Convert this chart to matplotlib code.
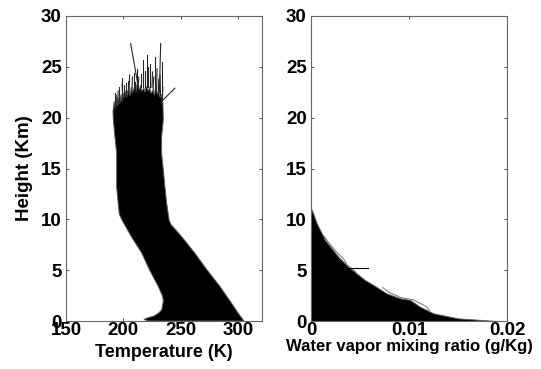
import matplotlib
matplotlib.use("Agg")
import matplotlib.pyplot as plt
import numpy as np

plt.rcParams['font.family'] = ['Liberation Sans', 'DejaVu Sans']
plt.rcParams['font.weight'] = 'bold'

# ---- Temperature panel: envelope of all profiles ----
# left edge, bottom -> top : height (km), temperature (K)
temp_left_z = [0.0, 0.15, 0.3, 0.5, 0.8, 1.1, 2.0, 2.5, 3.4, 5.0, 6.7, 8.3, 9.9, 10.5, 11.6, 13.2, 14.9, 16.5, 18.1, 19.8, 20.6]
temp_left_T = [222, 218, 221, 227, 231, 233.5, 235, 234, 230.5, 223, 216, 207, 199, 196.5, 195.5, 194.2, 194.2, 194.2, 192.7, 191.3, 191]
# top of the dense mass, left -> right : temperature (K), height (km)
temp_top_T = [191, 192, 193, 194, 195, 196, 197, 198, 199, 200, 201, 202, 203, 204, 206, 207, 208, 210, 211, 212, 214, 215, 216, 218, 219, 220, 222, 223, 224, 226, 227, 228, 230, 231, 232, 233, 234.5]
temp_top_z = [20.6, 21.6, 20.9, 21.9, 21.2, 22.0, 21.4, 22.3, 21.6, 22.4, 21.9, 22.6, 22.0, 22.7, 22.2, 23.0, 22.4, 23.1, 22.5, 23.3, 22.7, 23.2, 22.6, 22.9, 22.5, 23.1, 22.6, 23.0, 22.4, 22.7, 22.2, 22.8, 22.3, 22.6, 22.0, 22.3, 21.5]
# right edge, top -> bottom : height (km), temperature (K)
temp_right_z = [21.5, 19.8, 18.1, 16.5, 14.85, 13.2, 11.6, 9.9, 9.5, 8.3, 6.66, 5.0, 3.4, 1.74, 0.76, 0.1, 0.0]
temp_right_T = [234.5, 234.9, 233.4, 233.4, 234.9, 236.3, 237.8, 240.0, 241.5, 250.9, 262.5, 273.2, 284.3, 294.5, 300.3, 304.6, 305]

# individual profile tops sticking out above the mass: base (T, z) -> tip (T, z)
spike_T_base = [213.9, 231.5, 220.3, 227.6, 217.4, 233.4, 223.3, 212.0, 198.5, 210.2, 204.0, 192.7, 233.4, 195.0, 229.0, 225.0, 215.5, 201.0, 207.5,
                193.5, 196.5, 199.5, 202.5, 205.0, 209.0, 213.0, 219.0, 221.5, 226.0, 230.5, 232.5, 234.0]
spike_z_base = [22.5, 22.5, 23.0, 22.5, 23.0, 22.0, 23.0, 23.0, 22.0, 22.5, 22.5, 21.0, 21.6, 21.5, 22.5, 23.0, 23.0, 22.0, 22.5,
                21.0, 21.5, 21.8, 22.2, 22.4, 22.8, 23.0, 23.0, 23.0, 22.7, 22.4, 22.2, 21.8]
spike_T_tip = [206.4, 232.6, 220.3, 227.6, 217.4, 233.4, 223.3, 212.0, 198.5, 210.2, 204.0, 192.7, 245.0, 195.5, 229.5, 225.5, 215.5, 201.0, 208.0,
               193.8, 196.5, 199.0, 202.5, 205.5, 209.0, 213.5, 219.0, 221.5, 226.5, 231.0, 232.0, 234.5]
spike_z_tip = [27.3, 27.3, 26.2, 26.0, 25.7, 25.5, 25.3, 24.8, 23.9, 23.5, 23.6, 22.4, 22.9, 22.6, 24.8, 24.5, 24.3, 23.2, 24.0,
               22.2, 23.0, 23.3, 23.4, 24.2, 24.4, 24.0, 24.6, 25.0, 24.0, 23.8, 24.2, 23.0]

# ---- Water vapour panel: envelope ----
wv_z = [0.0, 0.06, 0.26, 0.75, 1.41, 2.07, 2.23, 2.72, 3.4, 4.03, 5.34, 6.3, 7.97, 9.6, 10.5, 11.1]
wv_q = [0.0190, 0.0180, 0.0150, 0.0125, 0.0111, 0.0101, 0.0091, 0.0077, 0.0066, 0.0055, 0.0038, 0.0028, 0.00143, 0.00058, 0.00025, 0.0]
# a few stray profiles just outside the envelope
stray1_z = [1.0, 1.4, 1.8, 2.1, 2.3, 2.8, 3.3]
stray1_q = [0.0121, 0.0118, 0.0110, 0.0104, 0.0092, 0.0080, 0.0073]
stray2_z = [4.8, 5.2, 5.5, 6.0, 6.8, 7.6, 8.4]
stray2_q = [0.0046, 0.0041, 0.0037, 0.0034, 0.0026, 0.0019, 0.0013]
stray3_z = [5.18, 5.18]
stray3_q = [0.0040, 0.0058]

T_ticks = [150, 200, 250, 300]
z_ticks = [0, 5, 10, 15, 20, 25, 30]
q_ticks = [0, 0.01, 0.02]
q_ticklabels = ['0', '0.01', '0.02']

W, H = 541, 369
fig = plt.figure(figsize=(W / 100, H / 100), dpi=100)
ax1 = fig.add_axes([66 / W, (H - 321) / H, 196 / W, 305 / H])
ax2 = fig.add_axes([311 / W, (H - 321) / H, 196 / W, 305 / H])

# temperature mass
polyT = temp_left_T + temp_top_T + temp_right_T
polyZ = temp_left_z + temp_top_z + temp_right_z
ax1.fill(polyT, polyZ, facecolor='black', edgecolor='0.35', linewidth=0.7, zorder=2)
for tb, zb, tt, zt in zip(spike_T_base, spike_z_base, spike_T_tip, spike_z_tip):
    ax1.plot([tb, tt], [zb, zt], color='0.15', linewidth=0.8, zorder=3)

# water vapour mass
ax2.fill_betweenx(wv_z, 0, wv_q, facecolor='black', edgecolor='0.35', linewidth=0.7, zorder=2)
ax2.plot(stray1_q, stray1_z, color='0.45', linewidth=0.7, zorder=3)
ax2.plot(stray2_q, stray2_z, color='0.45', linewidth=0.7, zorder=3)
ax2.plot(stray3_q, stray3_z, color='black', linewidth=0.8, zorder=3)

fs = 13.5
for ax in (ax1, ax2):
    ax.set_ylim(0, 30)
    ax.set_yticks(z_ticks)
    ax.tick_params(direction='in', length=2.5, width=0.7, top=True, right=True,
                   labelsize=fs, color='0.3')
    ax.tick_params(axis='x', pad=1)
    ax.tick_params(axis='y', pad=3)
    for s in ax.spines.values():
        s.set_color('0.4')
        s.set_linewidth(0.8)

ax1.set_xlim(150, 321)
ax1.set_xticks(T_ticks)
ax2.set_xlim(0, 0.02)
ax2.set_xticks(q_ticks)
ax2.set_xticklabels(q_ticklabels, fontweight='bold')
for lab in ax1.get_xticklabels() + ax1.get_yticklabels() + ax2.get_yticklabels():
    lab.set_fontweight('bold')

ax1.set_xlabel('Temperature (K)', fontsize=13, fontweight='bold', labelpad=3)
ax1.set_ylabel('Height (Km)', fontsize=13.5, fontweight='bold', labelpad=6)
ax2.set_xlabel('Water vapor mixing ratio (g/Kg)', fontsize=12, fontweight='bold', labelpad=0)

fig.savefig('out.png', dpi=100)
